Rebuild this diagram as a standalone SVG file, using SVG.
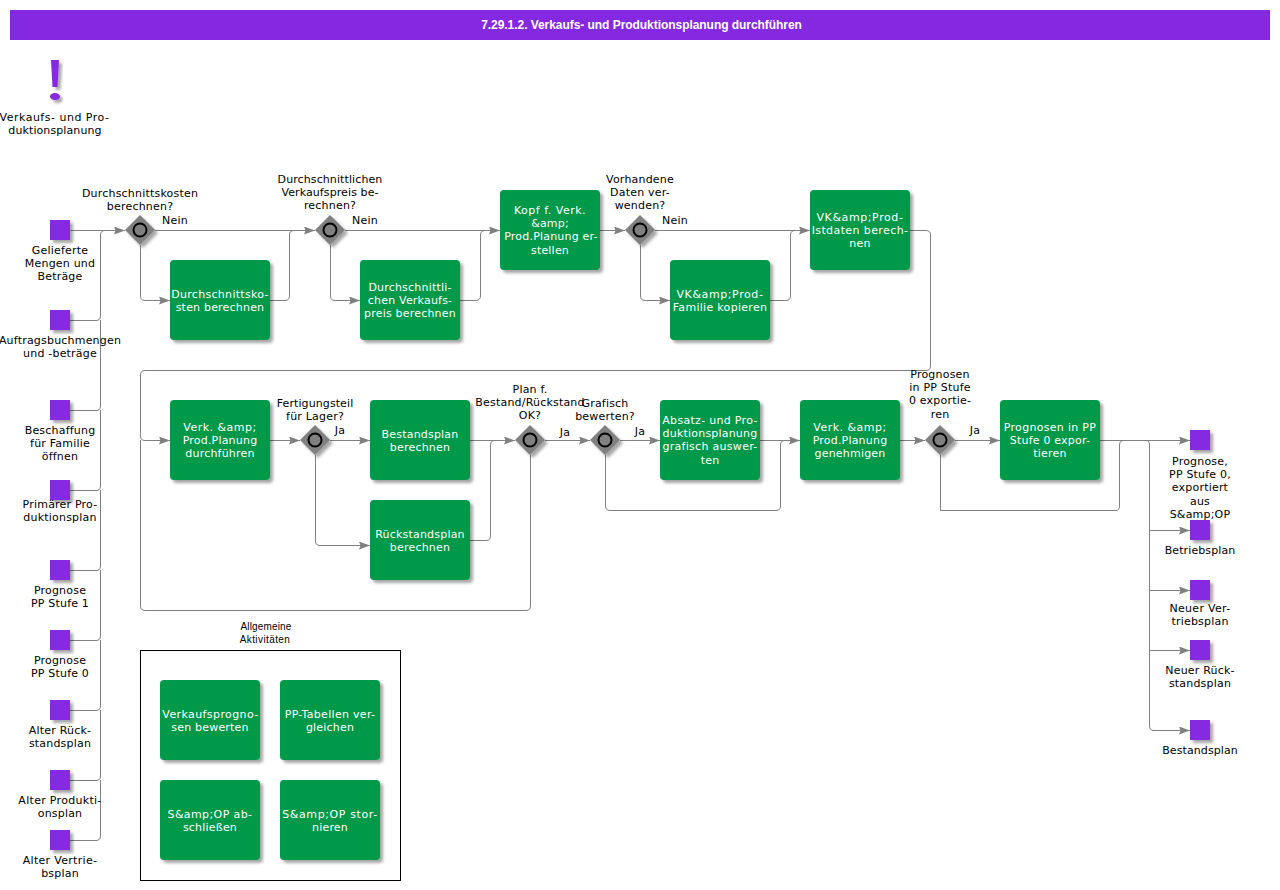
<svg xmlns="http://www.w3.org/2000/svg" width="1280" height="890" viewBox="0 0 1280 890">
<style>
text{font-family:"DejaVu Sans",sans-serif;font-size:11px;text-anchor:middle;fill:#000;letter-spacing:.2px}
.w{fill:#fff}
.s1{letter-spacing:.1px}
.s3{letter-spacing:.3px}
.s4{letter-spacing:.4px}
.s5{letter-spacing:.5px}
.s6{letter-spacing:.6px}
.a{font-family:"Liberation Sans",Arial,sans-serif;font-size:10px;letter-spacing:.15px}
.title{font-family:"Liberation Sans",Arial,sans-serif;font-size:12px;font-weight:bold;fill:#fff;letter-spacing:-.05px}
.task{fill:#00984a;filter:url(#s)}
.data{fill:#8529e0;filter:url(#s)}
.gw{fill:#808080;filter:url(#s)}
.gc{fill:#808080;stroke:#000;stroke-width:2}
.c path{fill:none;stroke:#808080;stroke-width:1}
.c .e{marker-end:url(#ah)}
</style>
<defs>
<filter id="s" x="-20%" y="-20%" width="150%" height="150%"><feDropShadow dx="3" dy="3" stdDeviation="1.5" flood-color="#000" flood-opacity=".35"/></filter>
<marker id="ah" markerUnits="userSpaceOnUse" markerWidth="12" markerHeight="10" refX="11" refY="4" orient="auto"><path d="M0 0L11 4L0 8L1.500 4Z" fill="#808080"/></marker>
<rect id="t" class="task" width="100" height="80" rx="4"/>
<rect id="d" class="data" width="20" height="20"/>
<g id="g"><path class="gw" d="M0-15L15 0L0 15L-15 0Z"/><circle class="gc" r="6.5"/></g>
</defs>
<rect width="1280" height="890" fill="#fff"/>
<g id="title"><rect x="10" y="10" width="1260" height="30" fill="#8529e0"/><text class="title" x="641.5" y="29">7.29.1.2. Verkaufs- und Produktionsplanung durchführen</text></g>
<g id="goal"><g filter="url(#s)" fill="#8529e0"><path d="M51 60H59L57.5 87H52.5Z"/><ellipse cx="55" cy="96.500" rx="5" ry="3.500"/></g><text class="s5" x="54.500" y="121">Verkaufs- und Pro-</text><text class="s1" x="55" y="134">duktionsplanung</text></g>

<g id="connectors" class="c">
<path class="e" d="M70.500 230.500H125"/>
<path d="M70 320.500H96Q100.500 320.500 100.500 316V235Q100.500 230.500 105 230.500"/>
<path d="M70 410.500H96Q100.500 410.500 100.500 406V320"/>
<path d="M70 490.500H96Q100.500 490.500 100.500 486V410"/>
<path d="M70 570.500H96Q100.500 570.500 100.500 566V490"/>
<path d="M70 640.500H96Q100.500 640.500 100.500 636V570"/>
<path d="M70 710.500H96Q100.500 710.500 100.500 706V640"/>
<path d="M70 780.500H96Q100.500 780.500 100.500 776V710"/>
<path d="M70 840.500H96Q100.500 840.500 100.500 836V780"/>
<path class="e" d="M155 230.500H315"/>
<path class="e" d="M140.500 245V296Q140.500 300.500 145 300.500H170"/>
<path d="M270 300.500H285Q289.500 300.500 289.500 296V235Q289.500 230.500 294 230.500"/>
<path class="e" d="M345 230.500H500"/>
<path class="e" d="M330.500 245V296Q330.500 300.500 335 300.500H360"/>
<path d="M460 300.500H475Q480.500 300.500 480.500 296V235Q480.500 230.500 485 230.500"/>
<path class="e" d="M600 230.500H625"/>
<path class="e" d="M655 230.500H810"/>
<path class="e" d="M640.500 245V296Q640.500 300.500 645 300.500H670"/>
<path d="M770 300.500H786Q790.500 300.500 790.500 296V235Q790.500 230.500 795 230.500"/>
<path class="e" d="M910 230.500H926Q930.500 230.500 930.500 235V366Q930.500 370.500 926 370.500H145Q140.500 370.500 140.500 375V436Q140.500 440.500 145 440.500H170"/>
<path d="M530.500 455V606Q530.500 610.500 526 610.500H145Q140.500 610.500 140.500 606V440"/>
<path class="e" d="M270 440.500H300"/>
<path class="e" d="M330 440.500H370"/>
<path class="e" d="M315.500 455V541Q315.500 545.500 320 545.500H370"/>
<path class="e" d="M470 440.500H515"/>
<path d="M470 540.500H486Q490.500 540.500 490.500 536V445Q490.500 440.500 495 440.500"/>
<path class="e" d="M545 440.500H590"/>
<path class="e" d="M620 440.500H660"/>
<path d="M605.500 455V506Q605.500 510.500 610 510.500H776Q780.500 510.500 780.500 506V445Q780.500 440.500 785 440.500"/>
<path class="e" d="M760 440.500H800"/>
<path class="e" d="M900 440.500H925"/>
<path class="e" d="M955 440.500H1000"/>
<path d="M940.500 455V510.500H1116Q1119.500 510.500 1119.500 506V445Q1119.500 440.500 1124 440.500"/>
<path class="e" d="M1100 440.500H1190"/>
<path d="M1146 440.500Q1149.500 440.500 1149.500 445V726Q1149.500 730.500 1154 730.500"/>
<path class="e" d="M1149.500 530.500H1190"/>
<path class="e" d="M1149.500 590.500H1190"/>
<path class="e" d="M1149.500 650.500H1190"/>
<path class="e" d="M1152 730.500H1190"/>
</g>

<g id="in1"><use href="#d" x="50" y="220"/><text x="60" y="254">Gelieferte</text><text x="60" y="267">Mengen und</text><text x="60" y="280">Beträge</text></g>
<g id="in2"><use href="#d" x="50" y="310"/><text x="60" y="344">Auftragsbuchmengen</text><text x="60" y="357">und -beträge</text></g>
<g id="in3"><use href="#d" x="50" y="400"/><text x="60" y="434">Beschaffung</text><text x="60" y="447">für Familie</text><text x="60" y="460">öffnen</text></g>
<g id="in4"><use href="#d" x="50" y="480"/><text x="60" y="508">Primärer Pro-</text><text x="60" y="521">duktionsplan</text></g>
<g id="in5"><use href="#d" x="50" y="560"/><text x="60" y="594">Prognose</text><text x="60" y="607">PP Stufe 1</text></g>
<g id="in6"><use href="#d" x="50" y="630"/><text x="60" y="664">Prognose</text><text x="60" y="677">PP Stufe 0</text></g>
<g id="in7"><use href="#d" x="50" y="700"/><text x="60" y="734">Alter Rück-</text><text x="60" y="747">standsplan</text></g>
<g id="in8"><use href="#d" x="50" y="770"/><text class="s3" x="60" y="804">Alter Produkti-</text><text x="60" y="817">onsplan</text></g>
<g id="in9"><use href="#d" x="50" y="830"/><text class="s3" x="60" y="864">Alter Vertrie-</text><text x="60" y="877">bsplan</text></g>

<g id="gw1"><use href="#g" x="140" y="230"/><text x="140" y="197">Durchschnittskosten</text><text x="140" y="210">berechnen?</text><text x="175" y="224">Nein</text></g>
<g id="gw2"><use href="#g" x="330" y="230"/><text class="s1" x="330" y="183">Durchschnittlichen</text><text class="s1" x="330" y="196">Verkaufspreis be-</text><text x="330" y="209">rechnen?</text><text x="365" y="224">Nein</text></g>
<g id="gw3"><use href="#g" x="640" y="230"/><text x="640" y="183">Vorhandene</text><text x="640" y="196">Daten ver-</text><text x="640" y="209">wenden?</text><text x="675" y="224">Nein</text></g>
<g id="gw4"><use href="#g" x="315" y="440"/><text class="s1" x="315" y="407">Fertigungsteil</text><text x="315" y="420">für Lager?</text><text x="340" y="434">Ja</text></g>
<g id="gw5"><use href="#g" x="530" y="440"/><text x="530" y="393">Plan f.</text><text x="530" y="406">Bestand/Rückstand</text><text x="530" y="419">OK?</text><text x="565" y="436">Ja</text></g>
<g id="gw6"><use href="#g" x="605" y="440"/><text x="605" y="407">Grafisch</text><text x="605" y="420">bewerten?</text><text x="640" y="435">Ja</text></g>
<g id="gw7"><use href="#g" x="940" y="440"/><text x="940" y="378">Prognosen</text><text x="940" y="391">in PP Stufe</text><text x="940" y="404">0 exportie-</text><text x="940" y="418">ren</text><text x="975" y="434">Ja</text></g>

<g id="t1"><use href="#t" x="170" y="260"/><text class="w s3" x="220" y="298">Durchschnittsko-</text><text class="w" x="220" y="311">sten berechnen</text></g>
<g id="t2"><use href="#t" x="360" y="260"/><text class="w" x="410" y="291">Durchschnittli-</text><text class="w" x="410" y="304">chen Verkaufs-</text><text class="w" x="410" y="317">preis berechnen</text></g>
<g id="t3"><use href="#t" x="500" y="190"/><text class="w s5" x="550" y="214">Kopf f. Verk.</text><text class="w" x="550" y="227">&amp;amp;</text><text class="w" x="551" y="240">Prod.Planung er-</text><text class="w" x="550" y="254">stellen</text></g>
<g id="t4"><use href="#t" x="670" y="260"/><text class="w s6" x="720" y="298">VK&amp;amp;Prod-</text><text class="w s3" x="720" y="311">Familie kopieren</text></g>
<g id="t5"><use href="#t" x="810" y="190"/><text class="w s6" x="860" y="221">VK&amp;amp;Prod-</text><text class="w s4" x="860" y="234">Istdaten berech-</text><text class="w" x="860" y="247">nen</text></g>
<g id="t6"><use href="#t" x="170" y="400"/><text class="w s5" x="220" y="431">Verk. &amp;amp;</text><text class="w" x="220" y="444">Prod.Planung</text><text class="w" x="220" y="457">durchführen</text></g>
<g id="t7"><use href="#t" x="370" y="400"/><text class="w" x="420" y="438">Bestandsplan</text><text class="w" x="420" y="451">berechnen</text></g>
<g id="t8"><use href="#t" x="370" y="500"/><text class="w" x="420" y="538">Rückstandsplan</text><text class="w" x="420" y="551">berechnen</text></g>
<g id="t9"><use href="#t" x="660" y="400"/><text class="w s3" x="710" y="424">Absatz- und Pro-</text><text class="w" x="710" y="437">duktionsplanung</text><text class="w s3" x="710" y="450">grafisch auswer-</text><text class="w" x="710" y="464">ten</text></g>
<g id="t10"><use href="#t" x="800" y="400"/><text class="w s5" x="850" y="431">Verk. &amp;amp;</text><text class="w" x="850" y="444">Prod.Planung</text><text class="w" x="850" y="457">genehmigen</text></g>
<g id="t11"><use href="#t" x="1000" y="400"/><text class="w s3" x="1050" y="431">Prognosen in PP</text><text class="w" x="1050" y="444">Stufe 0 expor-</text><text class="w" x="1050" y="457">tieren</text></g>

<g id="out1"><use href="#d" x="1190" y="430"/><text x="1200" y="465">Prognose,</text><text x="1200" y="478">PP Stufe 0,</text><text x="1200" y="491">exportiert</text><text x="1200" y="505">aus</text><text x="1200" y="518">S&amp;amp;OP</text></g>
<g id="out2"><use href="#d" x="1190" y="520"/><text class="s1" x="1200" y="554">Betriebsplan</text></g>
<g id="out3"><use href="#d" x="1190" y="580"/><text class="s3" x="1200" y="612">Neuer Ver-</text><text x="1200" y="625">triebsplan</text></g>
<g id="out4"><use href="#d" x="1190" y="640"/><text x="1200" y="674">Neuer Rück-</text><text x="1200" y="687">standsplan</text></g>
<g id="out5"><use href="#d" x="1190" y="720"/><text class="s1" x="1200" y="754">Bestandsplan</text></g>

<g id="frame"><rect x="140.500" y="650.500" width="260" height="230" fill="none" stroke="#000"/><text class="a" x="266" y="630">Allgemeine</text><text class="a" x="265" y="643" style="letter-spacing:.4px">Aktivitäten</text></g>
<g id="t12"><use href="#t" x="160" y="680"/><text class="w s4" x="210.500" y="718">Verkaufsprogno-</text><text class="w" x="210" y="731">sen bewerten</text></g>
<g id="t13"><use href="#t" x="280" y="680"/><text class="w s3" x="330" y="718">PP-Tabellen ver-</text><text class="w" x="330" y="731">gleichen</text></g>
<g id="t14"><use href="#t" x="160" y="780"/><text class="w s4" x="210" y="818">S&amp;amp;OP ab-</text><text class="w" x="210" y="831">schließen</text></g>
<g id="t15"><use href="#t" x="280" y="780"/><text class="w s6" x="330" y="818">S&amp;amp;OP stor-</text><text class="w" x="330" y="831">nieren</text></g>
</svg>
